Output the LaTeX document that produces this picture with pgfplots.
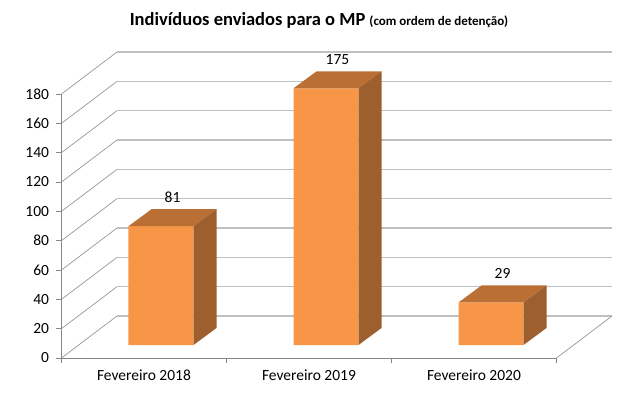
\documentclass[border=0pt]{standalone}
\usepackage{fontspec}
\setmainfont{Carlito}
\usepackage{pgfplots}
\usepackage{pgfplotstable}
\pgfplotsset{compat=1.18}
\definecolor{barfront}{RGB}{247,150,70}
\definecolor{bartop}{RGB}{186,112,52}
\definecolor{barside}{RGB}{156,95,45}
\definecolor{gridc}{RGB}{192,192,192}
\definecolor{diagc}{RGB}{150,150,150}
\definecolor{axisc}{RGB}{134,134,134}
\pgfplotstableread{
x v
0.5 81
1.5 175
2.5 29
}\datatable
\begin{document}
\begin{tikzpicture}[x=1pt,y=1pt]
\path[use as bounding box] (0pt,0pt) rectangle (643pt,-397pt);
\node[anchor=base,inner sep=0pt] at (319pt,-25.5pt) {\bfseries\fontsize{18.5}{20}\selectfont Indivíduos enviados para o MP {\fontsize{13}{15}\selectfont (com ordem de detenção)}};
\begin{axis}[
  at={(61.5pt,-358pt)}, anchor=south west,
  x=165pt, y=1.46667pt,
  xmin=0, xmax=3, ymin=0, ymax=180,
  clip=false,
  axis x line*=bottom, axis y line*=left,
  axis line style={draw=axisc, line width=0.8pt, -},
  tick align=outside,
  major tick length=5pt, minor tick length=5pt,
  tick style={draw=axisc, line width=0.8pt},
  ytick={0,20,...,180},
  xtick={0.5,1.5,2.5},
  xticklabels={Fevereiro 2018, Fevereiro 2019, Fevereiro 2020},
  major x tick style={draw=none},
  minor xtick={0,1,2,3},
  minor x tick style={draw=axisc, line width=0.8pt},
  ticklabel style={font=\fontsize{15.5}{17}\selectfont},
  /pgf/number format/assume math mode=true,
  yticklabel style={xshift=-4pt},
  xticklabel style={yshift=-3pt},
]
% walls: back wall gridlines and side wall diagonals
\pgfplotsinvokeforeach{0,20,...,180}{
  \draw[diagc, line width=0.7pt] (axis cs:0,#1) -- ([xshift=55.5pt,yshift=42pt]axis cs:0,#1);
  \draw[gridc, line width=1.5pt] ([xshift=55.5pt,yshift=42pt]axis cs:0,#1) -- ([xshift=55.5pt,yshift=42pt]axis cs:3,#1);
}
\draw[diagc, line width=0.7pt] (axis cs:3,0) -- ([xshift=55.5pt,yshift=42pt]axis cs:3,0);
% front faces of the bars
\addplot[ybar, bar width=65pt, fill=barfront, draw=none, xshift=17pt, yshift=13pt] table[x=x,y=v] {\datatable};
% top and side faces of the bars
\addplot[
  scatter, only marks, mark=*, mark size=0pt, mark options={draw=none,fill=none},
  point meta=y,
  visualization depends on={rawy \as \val},
  scatter/@pre marker code/.code={
    \pgfmathsetmacro\hh{\val*1.46667}
    \pgfmathsetmacro\bfr{13-\hh}
    \pgfmathsetmacro\bbk{30-\hh}
    \path[fill=bartop, draw=none] (-15.5pt,13pt) -- (49.5pt,13pt) -- (72.5pt,30pt) -- (7.5pt,30pt) -- cycle;
    \path[fill=barside, draw=none] (49.5pt,13pt) -- (72.5pt,30pt) -- (72.5pt,\bbk pt) -- (49.5pt,\bfr pt) -- cycle;
    \begin{scope}
  },
  scatter/@post marker code/.code={\end{scope}},
] table[x=x,y=v] {\datatable};
% value labels
\addplot[
  only marks, mark=*, mark size=0pt, mark options={draw=none,fill=none},
  point meta=y,
  nodes near coords,
  every node near coord/.append style={anchor=base, xshift=28.5pt, yshift=37pt, font=\fontsize{15.5}{17}\selectfont, text=black},
] table[x=x,y=v] {\datatable};
\end{axis}
\end{tikzpicture}
\end{document}
